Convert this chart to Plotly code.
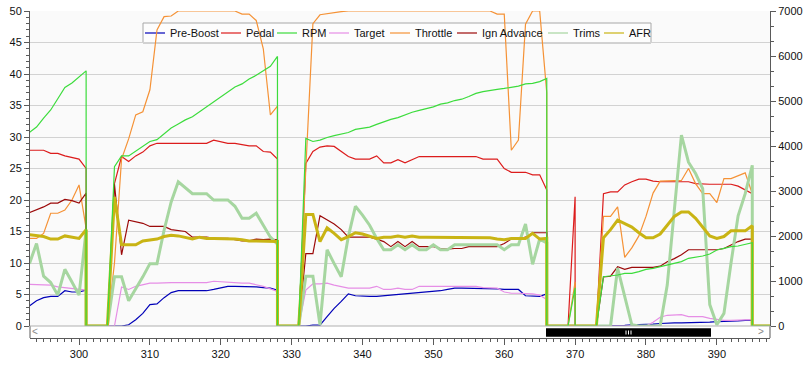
import plotly.graph_objects as go

# ---------------- data ----------------
time = [293, 294, 295, 296, 297, 298, 299, 300, 301,
        301, 302, 303, 304,
        305, 306, 307, 308, 309, 310, 311, 312, 313, 314, 315, 316, 317, 318, 319, 320,
        321, 322, 323, 324, 325, 326, 327, 328,
        328, 329, 330, 331,
        332, 333, 334, 335, 336, 337, 338, 339, 340, 341, 342, 343, 344, 345, 346, 347,
        348, 349, 350, 351, 352, 353, 354, 355, 356, 357, 358, 359, 360, 361, 362, 363,
        364, 365, 366,
        366, 367, 368, 369,
        370,
        370, 371, 372, 373,
        374, 375, 376, 377, 378, 379, 380, 381, 382, 383, 384, 385, 386, 387, 388, 389,
        390, 391, 392, 393, 394, 395,
        395, 396, 397, 398]

pre_boost = [3.2, 4.0, 4.5, 4.7, 4.7, 5.6, 5.4, 5.4, 5.7,
             0, 0, 0, 0,
             0, 0, 0.2, 1.0, 2.0, 3.4, 3.5, 4.5, 5.3, 5.6, 5.6, 5.6, 5.6, 5.6, 5.8, 6.1,
             6.3, 6.3, 6.3, 6.3, 6.2, 6.1, 6.0, 5.7,
             0, 0, 0, 0,
             0, 0.15, 0.15, 1.5, 2.8, 3.9, 5.1, 4.8, 4.7, 4.7, 4.7, 4.8, 4.9, 4.9, 5.1, 5.1,
             5.2, 5.3, 5.4, 5.6, 5.8, 6.0, 6.0, 6.0, 6.0, 6.0, 6.0, 5.9, 5.8, 5.8, 5.8, 4.8,
             4.8, 4.7, 5.1,
             0, 0, 0, 0,
             0,
             0, 0, 0, 0,
             0, 0, 0, 0.1, 0.2, 0.2, 0.3, 0.3, 0.4, 0.5, 0.5, 0.5, 0.5, 0.6, 0.6, 0.6,
             0.7, 0.7, 0.7, 0.8, 0.9, 0.9,
             0, 0, 0, 0]

pedal = [27.9, 27.9, 27.9, 27.4, 27.4, 27.0, 26.8, 26.5, 25.0,
         0, 0, 0, 0,
         22.6, 26.9, 26.1, 27.0, 27.6, 28.6, 29.0, 29.0, 29.0, 29.0, 29.0, 29.0, 29.0, 29.0, 29.5, 29.2,
         29.0, 29.0, 28.8, 28.6, 28.6, 27.7, 27.6, 26.5,
         0, 0, 0, 0,
         25.8, 27.7, 28.4, 28.6, 28.5, 27.7, 26.9, 26.5, 26.5, 26.5, 27.0, 25.9, 25.9, 26.4, 25.9, 26.4,
         26.9, 26.9, 26.9, 26.9, 26.9, 26.9, 26.9, 26.9, 26.9, 26.5, 26.5, 26.5, 25.0, 24.4, 24.4, 24.4,
         24.0, 24.0, 21.6,
         0, 0, 0, 0,
         20.5,
         0, 0, 0, 0,
         21.0, 21.3, 21.3, 22.4, 22.9, 23.3, 23.3, 23.0, 22.9, 22.9, 22.9, 22.9, 22.9, 22.6, 22.5, 22.5,
         22.5, 22.5, 22.5, 22.2, 21.6, 21.0,
         0, 0, 0, 0]

rpm = [4300, 4420, 4620, 4800, 5050, 5300, 5400, 5530, 5670,
       0, 0, 0, 0,
       3540, 3780, 3780, 3880, 3990, 4100, 4140, 4280, 4400, 4490, 4580, 4650, 4760, 4870, 4980, 5100,
       5210, 5310, 5380, 5490, 5570, 5680, 5770, 5990,
       0, 0, 0, 0,
       4170, 4100, 4130, 4190, 4230, 4270, 4300, 4370, 4400, 4420, 4480, 4540, 4590, 4630, 4690, 4750,
       4790, 4830, 4870, 4930, 4960, 5010, 5040, 5100, 5170, 5210, 5240, 5260, 5280, 5310, 5330, 5380,
       5390, 5430, 5500,
       0, 0, 0, 0,
       850,
       0, 0, 0, 0,
       1096, 1111, 1133, 1170, 1170, 1207, 1259, 1281, 1318, 1355, 1407, 1430, 1504, 1526, 1555, 1600,
       1689, 1726, 1763, 1778, 1822, 1852,
       0, 0, 0, 0]

target = [6.6, 6.6, 6.6, 6.5, 6.2, 6.1, 6.0, 5.8, 5.7,
          0, 0, 0, 0,
          0, 6.2, 5.8, 6.3, 6.5, 6.8, 6.8, 6.9, 6.9, 6.9, 6.9, 6.9, 6.9, 6.9, 7.1, 7.0,
          6.9, 6.8, 6.8, 6.8, 6.6, 6.3, 5.9, 5.5,
          0, 0, 0, 0,
          5.7, 6.7, 6.7, 6.8, 6.5, 6.3, 6.0, 6.0, 6.0, 6.0, 6.3, 5.8, 5.8, 6.0, 5.8, 5.8,
          6.3, 6.3, 6.3, 6.3, 6.3, 6.3, 6.3, 6.3, 6.3, 6.1, 6.0, 6.0, 5.4, 5.2, 5.2, 5.2,
          5.1, 4.9, 4.2,
          0, 0, 0, 0,
          0,
          0, 0, 0, 0,
          0, 0, 0, 0, 0, 0, 0, 0.6, 1.4, 1.7, 1.8, 1.8, 1.5, 1.5, 1.5, 1.2,
          1.0, 0.9, 0.9, 0.9, 1.0, 1.0,
          0, 0, 0, 0]

throttle = [13.9, 13.9, 14.7, 17.9, 17.9, 18.4, 20.0, 22.4, 15.5,
            0, 0, 0, 0,
            10.0, 26.5, 29.7, 33.5, 34.0, 37.5, 47.0, 49.1, 49.2, 50, 50, 50, 50, 50, 50, 50,
            50, 50, 49.5, 49.5, 48.5, 44.0, 33.5, 34.9,
            0, 0, 0, 0,
            25.0, 48.0, 49.4, 49.6, 49.8, 49.9, 50, 50, 50, 50, 50, 50, 50, 50, 50, 50,
            50, 50, 50, 50, 50, 50, 50, 50, 50, 50, 50, 49.5, 49.5, 27.9, 29.5, 47.9,
            50, 50, 37.0,
            0, 0, 0, 0,
            7.0,
            0, 0, 0, 0,
            17.4, 17.4, 18.9, 10.9, 12.4, 14.3, 17.4, 21.1, 23.0, 23.0, 23.1, 23.1, 25.0, 22.6, 21.0, 21.0,
            19.6, 23.4, 23.4, 23.8, 24.3, 21.0,
            0, 0, 0, 0]

ign_advance = [18.0, 18.4, 18.9, 19.5, 19.5, 20.1, 19.9, 19.5, 21.1,
               0, 0, 0, 0,
               22.5, 11.3, 16.8, 16.5, 16.3, 15.8, 15.8, 15.8, 15.3, 15.2, 15.0, 14.1, 14.1, 14.1, 13.9, 13.9,
               13.9, 13.7, 13.5, 13.5, 13.8, 13.7, 13.8, 13.7,
               0, 0, 0, 0,
               11.5, 11.5, 17.5, 16.8, 16.2, 15.3, 14.1, 14.1, 14.1, 14.1, 13.8, 13.4, 12.6, 13.4, 12.6, 13.4,
               12.6, 12.6, 12.6, 12.3, 12.2, 12.3, 12.3, 12.6, 12.6, 12.6, 12.6, 12.6, 13.1, 13.8, 13.8, 14.1,
               14.8, 14.8, 14.8,
               0, 0, 0, 0,
               0,
               0, 0, 0, 0,
               7.8, 7.9, 9.4, 9.0, 9.3, 9.3, 9.3, 9.3, 9.5, 10.2, 10.7, 11.3, 12.1, 12.1, 12.1, 12.1,
               12.1, 12.3, 12.9, 13.4, 13.8, 13.8,
               0, 0, 0, 0]

trims = [9.9, 13.1, 7.9, 6.9, 4.9, 9.0, 7.0, 4.9, 15.2,
         0, 0, 0, 0,
         7.8, 7.8, 4.0, 5.8, 7.8, 9.9, 9.9, 15.2, 19.7, 22.9, 22.0, 21.0, 21.0, 21.0, 20.0, 20.0,
         20.0, 19.0, 17.1, 17.1, 17.9, 16.0, 14.1, 13.0,
         0, 0, 0, 0,
         7.9, 7.9, 0.2, 12.1, 9.9, 7.8, 14.2, 19.0, 17.6, 16.0, 13.9, 12.1, 12.1, 12.9, 12.1, 12.9,
         12.1, 12.1, 12.9, 12.1, 12.1, 12.9, 12.9, 12.9, 12.9, 12.9, 12.9, 12.9, 12.1, 12.9, 12.9, 16.2,
         9.8, 13.8, 13.2,
         0, 0, 0, 0,
         0,
         0, 0, 0, 0,
         0, 0, 9.2, 4.6, 0.2, 0, 0, 0, 0, 6.5, 18.0, 30.3, 26.0, 24.2, 21.8, 3.4,
         0.2, 2.0, 10.0, 17.5, 21.0, 25.5,
         0, 0, 0, 0]

afr = [14.5, 14.3, 14.2, 13.8, 13.8, 14.3, 14.1, 13.9, 15.3,
       0, 0, 0, 0,
       20.5, 12.9, 12.9, 12.9, 13.5, 13.7, 13.8, 14.2, 14.4, 14.3, 14.1, 13.8, 14.1, 13.9, 13.9, 13.9,
       13.8, 13.8, 13.7, 13.5, 13.5, 13.5, 13.5, 13.4,
       0, 0, 0, 0,
       17.7, 17.7, 13.4, 15.6, 14.7, 13.7, 14.2, 14.8, 14.6, 14.3, 13.9, 14.1, 14.1, 14.3, 14.1, 14.3,
       14.1, 14.1, 14.1, 14.1, 14.1, 14.1, 14.0, 14.0, 14.0, 14.0, 14.0, 13.8, 13.7, 13.9, 13.9, 13.9,
       14.7, 13.8, 13.9,
       0, 0, 0, 0,
       0,
       0, 0, 0, 0,
       14.0, 15.3, 16.8, 16.2, 15.7, 14.8, 14.0, 14.0, 14.6, 16.0, 17.4, 18.1, 18.1, 17.1, 15.6, 14.3,
       13.9, 14.2, 15.1, 15.1, 15.1, 15.9,
       0, 0, 0, 0]

series_names = ["Pre-Boost", "Pedal", "RPM", "Target", "Throttle", "Ign Advance", "Trims", "AFR"]
series_values = [pre_boost, pedal, rpm, target, throttle, ign_advance, trims, afr]

left_ticks = [0, 5, 10, 15, 20, 25, 30, 35, 40, 45, 50]
right_ticks = [0, 1000, 2000, 3000, 4000, 5000, 6000, 7000]
x_ticks = [300, 310, 320, 330, 340, 350, 360, 370, 380, 390]

for v in series_values:
    assert len(v) == len(time), len(v)

# ---------------- styles ----------------
colors = ["#0000b8", "#dc1c1c", "#3cdc3c", "#e68ee6", "#f59236", "#9c0a0a", "#a6d6a0", "#c9b414"]
widths = [1.2, 1.2, 1.2, 1.2, 1.2, 1.2, 3.0, 3.0]
axes_for = ["y", "y", "y2", "y", "y", "y", "y", "y"]

FONT = "Liberation Sans"
AX = "#5a5a5a"

fig = go.Figure()
for name, vals, col, w, ax in zip(series_names, series_values, colors, widths, axes_for):
    fig.add_trace(go.Scatter(x=time, y=vals, name=name, mode="lines", yaxis=ax,
                             line=dict(color=col, width=w), showlegend=False,
                             hoverinfo="skip"))

# geometry in page pixels of the 807x367 window
PAGE_W, PAGE_H = 807, 367
L, R, T, B = 30, 770, 11, 338
ZERO_PX = 326


def px_x(p):
    return (p - L) / (R - L)


def px_y(p):
    return (B - p) / (B - T)


shapes = []
annotations = []

# plot background (light grey) under everything
shapes.append(dict(type="rect", xref="paper", yref="paper", x0=0, x1=1, y0=px_y(ZERO_PX), y1=1,
                   fillcolor="#fafafa", line=dict(width=0), layer="below"))

# legend box (drawn under the traces, like the reference)
shapes.append(dict(type="rect", xref="paper", yref="paper", x0=px_x(143), x1=px_x(651),
                   y0=px_y(43), y1=px_y(23), fillcolor="#fdfdfd",
                   line=dict(color="#a8a8a8", width=1), layer="below"))
legend_text_px = [168, 244, 300, 352, 413, 480, 571, 627]
ly = px_y(33)
for name, col, tx in zip(series_names, colors, legend_text_px):
    shapes.append(dict(type="line", xref="paper", yref="paper", x0=px_x(tx - 23), x1=px_x(tx - 3),
                       y0=ly, y1=ly, line=dict(color=col, width=1.2), layer="below"))
    annotations.append(dict(xref="paper", yref="paper", x=px_x(tx), y=ly, text=name,
                            showarrow=False, xanchor="left", yanchor="middle",
                            font=dict(family=FONT, size=11, color="#111111")))

# axis line extensions down to the x axis
for xx in (0, 1):
    shapes.append(dict(type="line", xref="paper", yref="paper", x0=xx, x1=xx, y0=0, y1=px_y(ZERO_PX),
                       line=dict(color=AX, width=1)))
# zero line of the chart
shapes.append(dict(type="line", xref="paper", yref="paper", x0=0, x1=1, y0=px_y(ZERO_PX), y1=px_y(ZERO_PX),
                   line=dict(color="#b0b0b0", width=1)))

# scroll bar
shapes.append(dict(type="rect", xref="paper", yref="paper", x0=px_x(546), x1=px_x(711),
                   y0=px_y(336.7), y1=px_y(328.3), fillcolor="#000000", line=dict(width=0)))
for gx in (626, 628.5, 631):
    shapes.append(dict(type="line", xref="paper", yref="paper", x0=px_x(gx), x1=px_x(gx),
                       y0=px_y(334.5), y1=px_y(330.5), line=dict(color="#ffffff", width=1)))
for ax_txt, axx in (("<", 35), (">", 761)):
    annotations.append(dict(xref="paper", yref="paper", x=px_x(axx), y=px_y(331.8), text=ax_txt,
                            showarrow=False, xanchor="center", yanchor="middle",
                            font=dict(family=FONT, size=10, color="#8a8a8a")))

fig.update_layout(
    width=PAGE_W, height=PAGE_H,
    margin=dict(l=L, r=PAGE_W - R, t=T, b=PAGE_H - B, pad=0, autoexpand=False),
    paper_bgcolor="#ffffff",
    plot_bgcolor="rgba(0,0,0,0)",
    font=dict(family=FONT, size=11, color="#111111"),
    showlegend=False,
    hovermode=False,
    shapes=shapes,
    annotations=annotations,
    xaxis=dict(range=[293.08, 397.5], anchor="free", position=0, automargin=False,
               tickmode="array", tickvals=x_ticks, ticktext=[str(t) for t in x_ticks],
               ticks="outside", ticklen=6, tickcolor=AX, tickwidth=1, ticklabeloverflow="allow",
               showline=True, linecolor=AX, linewidth=1, showgrid=False, zeroline=False,
               minor=dict(dtick=1, tick0=0, ticks="outside", ticklen=3, tickcolor=AX, showgrid=False),
               tickfont=dict(family=FONT, size=11, color="#111111")),
    yaxis=dict(domain=[px_y(ZERO_PX), 1], range=[0, 50], automargin=False,
               tickmode="array", tickvals=left_ticks, ticktext=[str(t) for t in left_ticks],
               ticks="outside", ticklen=5, tickcolor=AX, tickwidth=1, ticklabeloverflow="allow",
               showline=True, linecolor=AX, linewidth=1,
               showgrid=True, gridcolor="#d2d2d2", gridwidth=1, zeroline=False,
               minor=dict(dtick=1, tick0=0, ticks="outside", ticklen=3, tickcolor=AX, showgrid=False),
               tickfont=dict(family=FONT, size=11, color="#111111")),
    yaxis2=dict(overlaying="y", side="right", range=[0, 7000], anchor="x", automargin=False,
                tickmode="array", tickvals=right_ticks, ticktext=[str(t) for t in right_ticks],
                ticks="outside", ticklen=5, tickcolor=AX, tickwidth=1, ticklabeloverflow="allow",
                showline=True, linecolor=AX, linewidth=1, showgrid=False, zeroline=False,
                minor=dict(dtick=1000 / 3, tick0=0, ticks="outside", ticklen=3, tickcolor=AX, showgrid=False),
                tickfont=dict(family=FONT, size=11, color="#111111")),
)

# remove the browser's default 8px page margin so the chart sits at the window's corner
fig.write_html("out.html", config={"displayModeBar": False},
               post_script="document.body.style.margin='0px';")
